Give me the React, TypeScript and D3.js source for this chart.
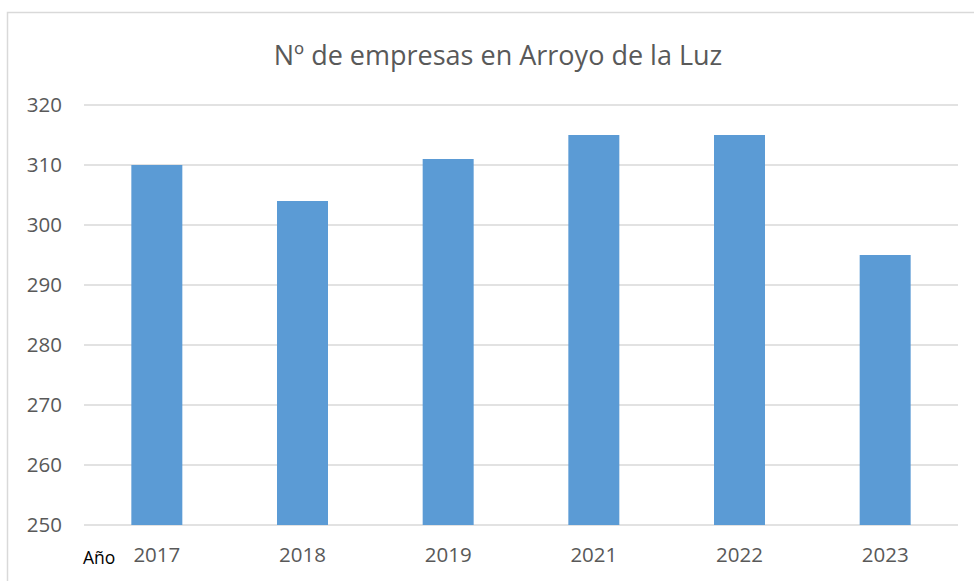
import React, { useEffect, useRef } from "react";
import * as d3 from "d3";

const categories = ["2017", "2018", "2019", "2021", "2022", "2023"];
const values = [310, 304, 311, 315, 315, 295];
const yTicks = [250, 260, 270, 280, 290, 300, 310, 320];
const title = "Nº de empresas en Arroyo de la Luz";
const xAxisName = "Año";

export default function App() {
  const ref = useRef<SVGSVGElement>(null);
  useEffect(() => {
    const svg = d3.select(ref.current);
    svg.selectAll("*").remove();
    const left = 84, right = 958, top = 105, bottom = 525;
    const font = "'Open Sans', 'Liberation Sans', sans-serif";

    svg.append("rect").attr("x", 7.5).attr("y", 12.5).attr("width", 980).attr("height", 600)
      .attr("fill", "#fff").attr("stroke", "#d9d9d9").attr("stroke-width", 1.5);

    const x = d3.scaleBand<string>().domain(categories).range([left, right]).paddingInner(0.65).paddingOuter(0.325);
    const y = d3.scaleLinear().domain([250, 320]).range([bottom, top]);

    svg.append("g").selectAll("line").data(yTicks).join("line")
      .attr("x1", left).attr("x2", right)
      .attr("y1", d => y(d)).attr("y2", d => y(d))
      .attr("stroke", "#d9d9d9").attr("stroke-width", 1.5);

    svg.append("g").selectAll("rect").data(values).join("rect")
      .attr("x", (_, i) => x(categories[i])!)
      .attr("width", x.bandwidth())
      .attr("y", d => y(d))
      .attr("height", d => y(250) - y(d))
      .attr("fill", "#5b9bd5");

    svg.append("g").selectAll("text").data(yTicks).join("text")
      .attr("x", 62).attr("y", d => y(d)).attr("dy", "0.36em")
      .attr("text-anchor", "end").attr("font-family", font).attr("font-size", 20.5)
      .attr("fill", "#595959").text(d => String(d));

    svg.append("g").selectAll("text").data(categories).join("text")
      .attr("x", d => x(d)! + x.bandwidth() / 2).attr("y", 555).attr("dy", "0.36em")
      .attr("text-anchor", "middle").attr("font-family", font).attr("font-size", 20.5)
      .attr("fill", "#595959").text(d => d);

    svg.append("text").attr("x", 83).attr("y", 558).attr("dy", "0.36em")
      .attr("font-family", font).attr("font-size", 17.5).attr("fill", "#000").text(xAxisName);

    svg.append("text").attr("x", 498).attr("y", 55).attr("dy", "0.36em")
      .attr("text-anchor", "middle").attr("font-family", font).attr("font-size", 27)
      .attr("fill", "#595959").text(title);
  }, []);
  return (
    <svg ref={ref} width={974} height={581}
      style={{ position: "absolute", left: 0, top: 0, background: "#fff" }} />
  );
}
